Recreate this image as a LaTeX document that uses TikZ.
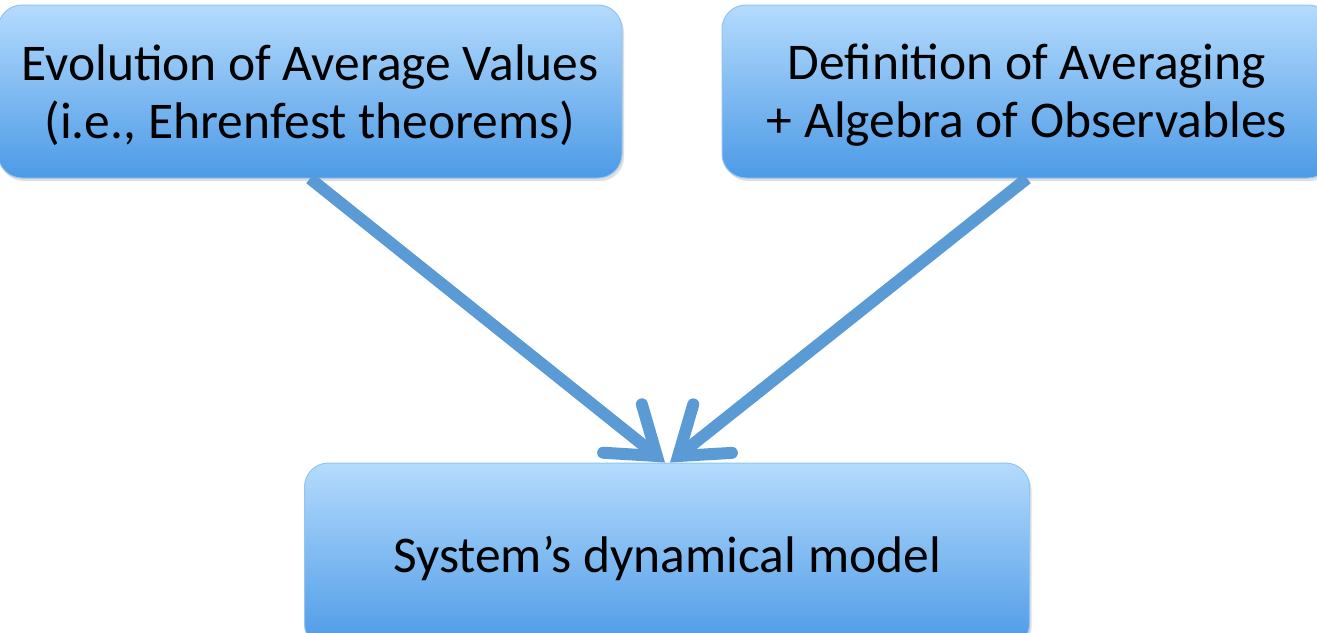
\documentclass[tikz,border=0pt]{standalone}
\usepackage{fontspec}
\setmainfont{Carlito}
\usetikzlibrary{arrows.meta,shadows}

\definecolor{boxtop}{HTML}{B4DBFD}
\definecolor{boxbot}{HTML}{4C9AE6}
\definecolor{boxline}{HTML}{94C4F0}
\definecolor{arrowblue}{HTML}{5B9BD5}

\tikzset{
  bluebox/.style={
    rounded corners=24pt, draw=boxline, line width=1pt,
    top color=boxtop, bottom color=boxbot,
    drop shadow={opacity=0.25, shadow xshift=2pt, shadow yshift=-3pt},
    inner sep=0pt
  },
  boxtext/.style={
    align=center, font=\fontsize{51.5}{58}\selectfont, text=black,
    inner sep=0pt
  },
  flow/.style={
    draw=arrowblue, line width=12pt, line cap=butt,
    -{Straight Barb[length=44pt, width=62pt, line cap=round]}
  }
}

\begin{document}
\begin{tikzpicture}[x=1pt,y=-1pt]
  \useasboundingbox (0,0) rectangle (1317,632);
  \fill[white] (0,0) rectangle (1317,632);

  % the three boxes
  \node[bluebox, minimum width=624pt, minimum height=173pt] (avg) at (310,91.5) {};
  \node[bluebox, minimum width=610pt, minimum height=173pt] (alg) at (1027,91.5) {};
  \node[bluebox, minimum width=725pt, minimum height=185pt] (model) at (667,555.5) {};

  % their texts
  \node[boxtext] (avgtext) at ([yshift=-4pt]avg.center)
    {Evolution of Average Values\\(i.e., Ehrenfest theorems)};
  \node[boxtext] (algtext) at ([yshift=-4pt]alg.center)
    {Definition of Averaging\\+ Algebra of Observables};
  \node[boxtext] (modeltext) at ([yshift=-3pt]model.center)
    {System’s dynamical model};

  % connectors
  \coordinate (tipL) at ([xshift=-2pt]model.north);
  \coordinate (tipR) at ([xshift=3pt]model.north);
  \draw[flow] (avg.south) -- (tipL);
  \draw[flow] (alg.south) -- (tipR);
\end{tikzpicture}
\end{document}
